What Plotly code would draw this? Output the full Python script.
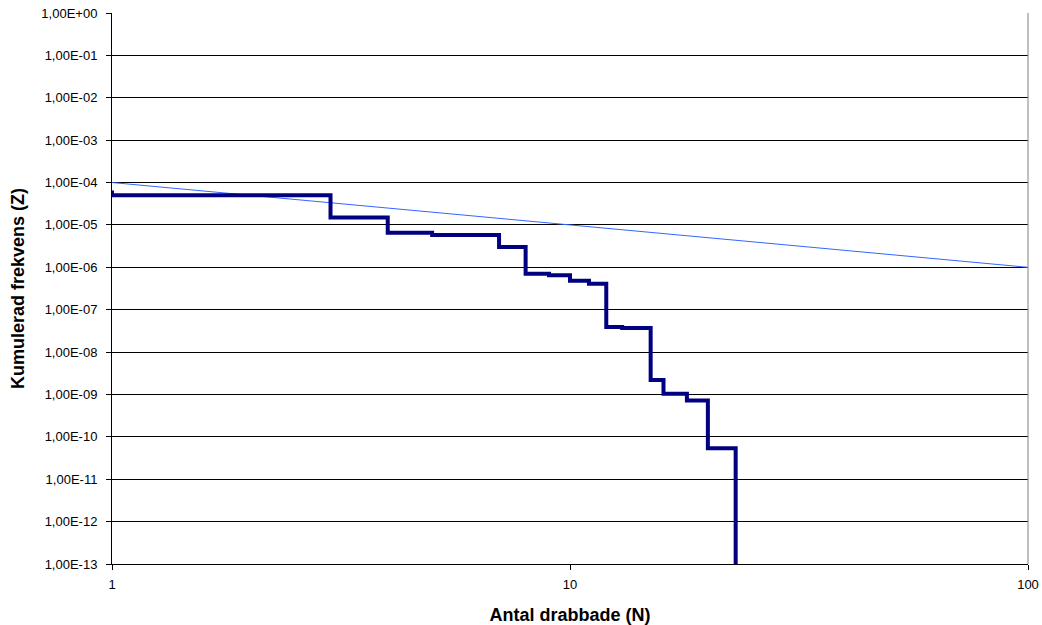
import plotly.graph_objects as go

# Step series (cumulative frequency)
n_values = [1, 1, 3, 4, 5, 7, 8, 9, 10, 11, 12, 13, 15, 16, 18, 20, 23]
z_values = [6.5e-5, 5.0e-5, 1.5e-5, 6.5e-6, 5.8e-6, 3.0e-6, 7.0e-7, 6.5e-7,
            4.8e-7, 4.1e-7, 3.9e-8, 3.7e-8, 2.2e-9, 1.04e-9, 7.2e-10, 5.4e-11, 1e-14]

# Criterion line
crit_n = [1, 100]
crit_z = [1e-4, 1e-6]

y_tickvals = [10.0 ** -k for k in range(0, 14)]
y_ticktext = ["1,00E+00"] + ["1,00E-%02d" % k for k in range(1, 14)]
x_tickvals = [1, 10, 100]
x_ticktext = ["1", "10", "100"]

fig = go.Figure()
fig.add_trace(go.Scatter(x=crit_n, y=crit_z, mode="lines",
                         line=dict(color="#3366FF", width=1), showlegend=False))
fig.add_trace(go.Scatter(x=n_values, y=z_values, mode="lines", line_shape="hv",
                         line=dict(color="#000080", width=4), showlegend=False))

font = "Liberation Sans, Arial, sans-serif"
fig.update_layout(
    width=1042, height=625,
    margin=dict(l=112, r=14, t=13, b=61),
    paper_bgcolor="white", plot_bgcolor="white",
    font=dict(family=font, size=13, color="black"),
    xaxis=dict(type="log", range=[0, 2], tickvals=x_tickvals, ticktext=x_ticktext,
               showgrid=False, ticks="outside", ticklen=5, tickcolor="black",
               ticklabelstandoff=3,
               showline=True, linecolor="black", linewidth=1, mirror=False,
               zeroline=False, automargin=False,
               title=dict(text="<b>Antal drabbade (N)</b>", font=dict(size=18), standoff=18)),
    yaxis=dict(type="log", range=[-13, 0], tickvals=y_tickvals, ticktext=y_ticktext,
               showgrid=True, gridcolor="#000000", gridwidth=1,
               ticks="outside", ticklen=5, tickcolor="black",
               ticklabelstandoff=6,
               showline=True, linecolor="black", linewidth=1,
               zeroline=False, automargin=False,
               title=dict(text="<b>Kumulerad frekvens (Z)</b>", font=dict(size=18), standoff=12)),
)
# plot area right border (gray)
fig.add_shape(type="line", xref="paper", yref="paper", x0=1, x1=1, y0=0, y1=1,
              line=dict(color="#808080", width=1))

fig.write_html("out.html", config={"displayModeBar": False},
               post_script="document.body.style.margin='0';document.body.style.overflow='hidden';")
